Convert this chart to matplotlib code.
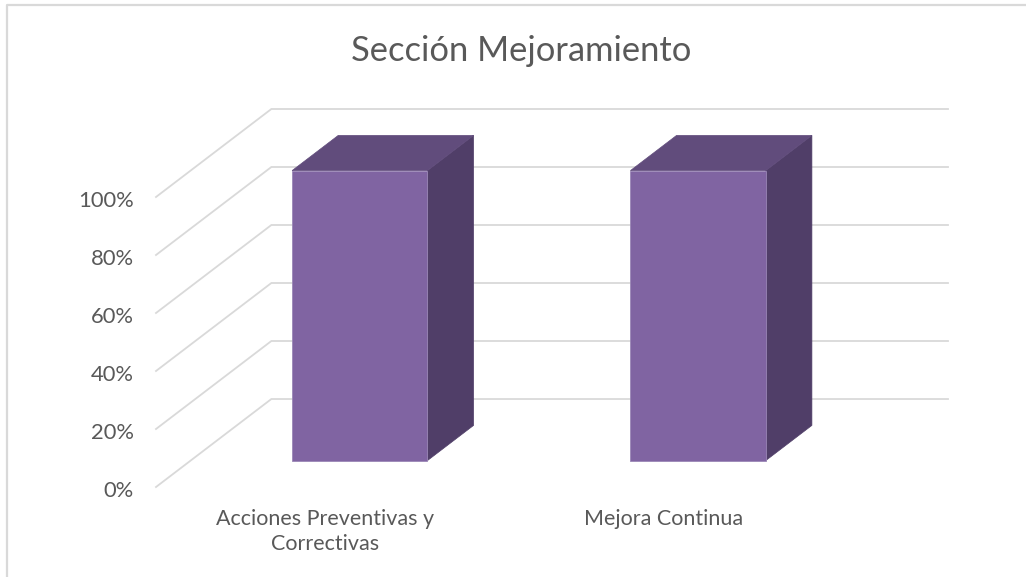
import matplotlib
matplotlib.use("Agg")
import matplotlib.pyplot as plt
from matplotlib.patches import Polygon
from matplotlib.lines import Line2D

# ---- data ----
title = "Sección Mejoramiento"
categories = ["Acciones Preventivas y\nCorrectivas", "Mejora Continua"]
values = [1.0, 1.0]
yticks = [0.0, 0.2, 0.4, 0.6, 0.8, 1.0]
ytick_labels = ["0%", "20%", "40%", "60%", "80%", "100%"]

# ---- style ----
FONT = ["Lato", "DejaVu Sans"]
TXT = "#595959"
GRID = "#d9d9d9"
C_FRONT = "#8064A2"
C_TOP = "#614C7C"
C_SIDE = "#503E68"

W, H = 1026, 577
fig = plt.figure(figsize=(W / 100, H / 100), dpi=100)
fig.patch.set_facecolor("white")

x0, x1 = 156, 948
y0, y1 = 487, 109
ax = fig.add_axes([x0 / W, (H - y0) / H, (x1 - x0) / W, (y0 - y1) / H])
DX = 0.341   # depth offset (category units)
DY = 0.3034  # depth offset (value units)
ncat = len(categories)
ax.set_xlim(-0.5, ncat - 0.5 + DX)
ax.set_ylim(0, yticks[-1] + DY)
ax.axis("off")

# gridlines: left wall diagonals + back wall horizontals
for v in yticks:
    ax.add_line(Line2D([-0.5, -0.5 + DX, ncat - 0.5 + DX], [v, v + DY, v + DY],
                       color=GRID, lw=1.3, zorder=1, clip_on=False,
                       solid_joinstyle="miter"))
for v, lab in zip(yticks, ytick_labels):
    ax.annotate(lab, xy=(-0.5, v), xytext=(-16, -3), textcoords="offset points",
                ha="right", va="center", fontsize=15.8, color=TXT, family=FONT)

# bars
half = 0.2
zf, zb = 0.3, 0.7
for i, v in enumerate(values):
    xl, xr = i - half, i + half
    front = Polygon([(xl + zf * DX, zf * DY), (xr + zf * DX, zf * DY),
                     (xr + zf * DX, v + zf * DY), (xl + zf * DX, v + zf * DY)],
                    closed=True, facecolor=C_FRONT, edgecolor="#9a86b6", lw=0.6, zorder=5)
    top = Polygon([(xl + zf * DX, v + zf * DY), (xr + zf * DX, v + zf * DY),
                   (xr + zb * DX, v + zb * DY), (xl + zb * DX, v + zb * DY)],
                  closed=True, facecolor=C_TOP, edgecolor=C_TOP, lw=0.5, zorder=4)
    side = Polygon([(xr + zf * DX, zf * DY), (xr + zb * DX, zb * DY),
                    (xr + zb * DX, v + zb * DY), (xr + zf * DX, v + zf * DY)],
                   closed=True, facecolor=C_SIDE, edgecolor=C_SIDE, lw=0.5, zorder=4)
    for p in (side, top, front):
        ax.add_patch(p)

# category labels
for i, lab in enumerate(categories):
    ax.annotate(lab, xy=(i, 0), xytext=(0, -16), textcoords="offset points",
                ha="center", va="top", fontsize=15.5, color=TXT, family=FONT,
                linespacing=1.32)

# title
fig.text(521 / W, 1 - 51 / H, title, ha="center", va="center",
         fontsize=24.8, color=TXT, family=FONT)

# chart border (left and top)
fig.add_artist(Line2D([7 / W, 7 / W, 1.0], [0.0, 1 - 4.5 / H, 1 - 4.5 / H],
                      transform=fig.transFigure, color=GRID, lw=1.6))

fig.savefig("out.png", dpi=100, facecolor="white")
